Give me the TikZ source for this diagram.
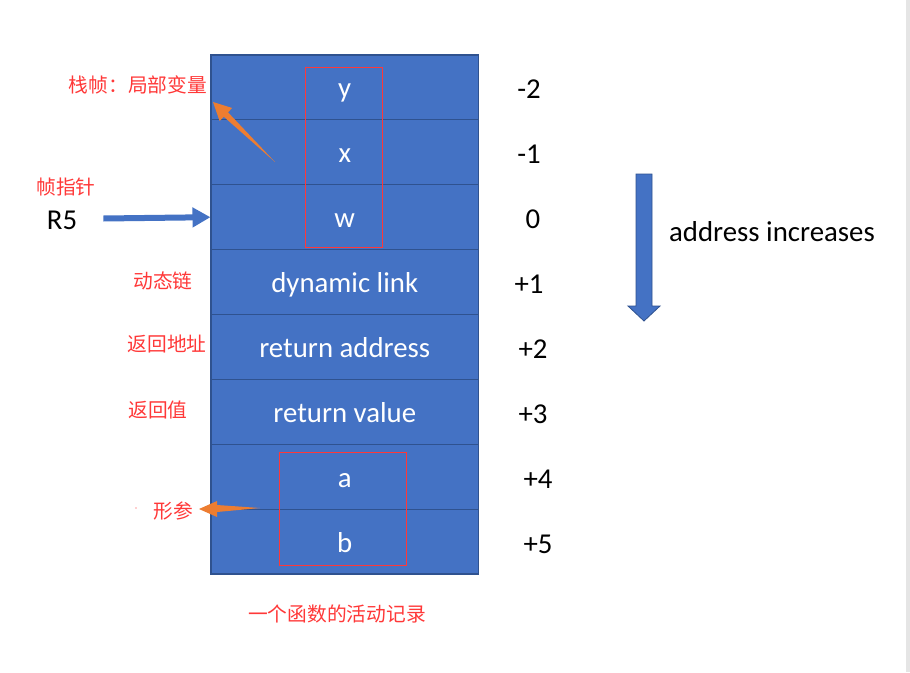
\documentclass[tikz,border=0pt]{standalone}
\usepackage{fontspec}
\setmainfont{Carlito}
\newfontfamily\cjk{Noto Sans CJK SC}
\usetikzlibrary{arrows.meta}

\definecolor{cellblue}{RGB}{68,114,196}
\definecolor{cellline}{RGB}{47,82,143}
\definecolor{notered}{RGB}{255,56,56}
\definecolor{pointorange}{RGB}{237,125,49}

\tikzset{
	cell/.style={draw=cellline, fill=cellblue, line width=0.8pt, inner sep=0pt,
		minimum width=200.6pt, minimum height=48.66pt, text=white,
		text height=18pt, text depth=2.2pt, font=\fontsize{21.6}{24}\selectfont},
	offset/.style={text=black, inner sep=0pt, text height=18pt, text depth=2.2pt,
		font=\fontsize{21.6}{24}\selectfont},
	note/.style={text=notered, inner sep=0pt, font=\cjk\fontsize{14.8}{16}\selectfont},
	frame/.style={draw=notered, line width=0.6pt},
}

\begin{document}
\begin{tikzpicture}[x=0.75pt, y=-0.75pt]

		\useasboundingbox (0,0) rectangle (910,672);
		\fill[white] (0,0) rectangle (906,672);
		\fill[black!10] (906,0) rectangle (910,672);

		% stack frame cells
		\foreach \name/\txt [count=\i] in {y/y, x/x, w/w, dl/dynamic link, ra/return address, rv/return value, a/a, b/b}
			\node[cell] (\name) at (344.75, {55+64.875*(\i-0.5)}) {\txt};

		\draw[frame] (305,67) rectangle (382,247);
		\draw[frame] (279,452) rectangle (406,565);

		% offsets
		\foreach \n/\nx [count=\i] in {-2/529, -1/529, 0/533, +1/529, +2/533, +3/533, +4/538, +5/538}
			\node[offset] (n\i) at (\nx, {56+64.875*(\i-0.5)}) {\n};

		% labels on the left
		\node[note] (locals) at (138,85) {栈帧：局部变量};
		\node[note] (fp) at (66,187) {帧指针};
		\node[offset] (R5) at (62,219) {R5};
		\node[note] (link) at (163,281) {动态链};
		\node[note] (retaddr) at (167,344) {返回地址};
		\node[note] (retval) at (158,410) {返回值};
		\node[note] (params) at (173,511) {形参};
		\node[note] (caption) at (337,614) {一个函数的活动记录};
		\fill[notered] (136,508) circle (0.7);

		% pointers
		\draw[cellblue, line width=4.5pt, -{Triangle[length=13.5pt, width=14.25pt]}, shorten <=19.5pt] (R5) -- (w.west);
		\fill[pointorange] (275,162) -- (223.8,116.7) -- (219.6,121) -- (213,102) -- (232.2,108) -- (228,112.3) -- cycle;
		\fill[pointorange] (260,508) -- (217,512) -- (217,517) -- (199,509) -- (217,501) -- (217,505) -- cycle;

		% direction of addresses
		\filldraw[fill=cellblue, draw=cellline, line width=0.6pt] (636,174) -- (652,174) -- (652,306) -- (660,306) -- (644,321) -- (628,306) -- (636,306) -- cycle;
		\node[offset] (dir) at (772,231) {address increases};
	\end{tikzpicture}
\end{document}
